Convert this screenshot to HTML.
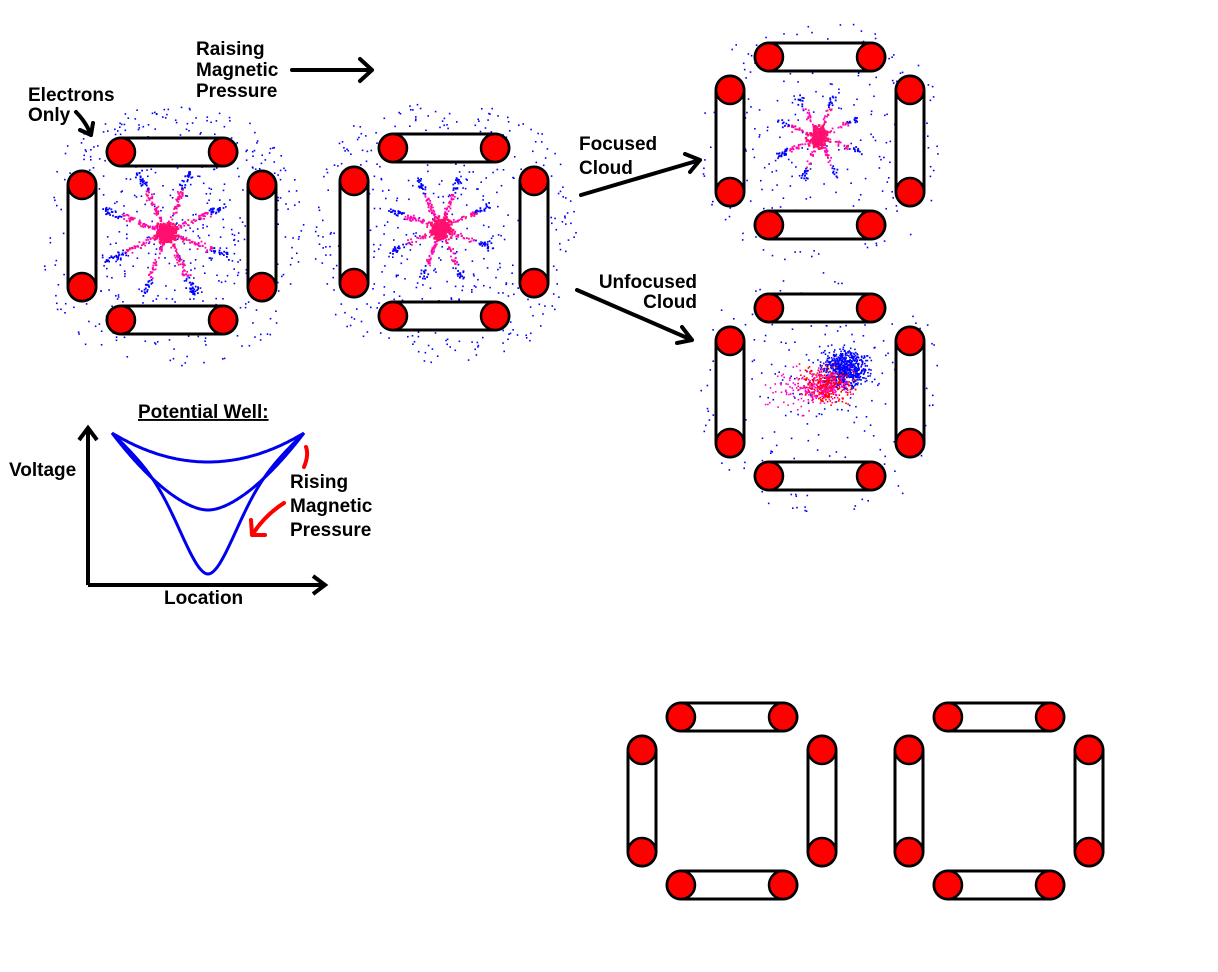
<!DOCTYPE html>
<html><head><meta charset="utf-8"><style>
html,body{margin:0;padding:0;background:#fff;}
svg{display:block;}
text{font-family:"Liberation Sans",sans-serif;font-weight:bold;font-size:19px;fill:#000;}
</style></head><body>
<svg id="s" width="1218" height="972" viewBox="0 0 1218 972">
<g id="dots"></g>
<g id="rigs"></g>

<g>
<text x="196" y="55">Raising</text>
<text x="196" y="76">Magnetic</text>
<text x="196" y="97">Pressure</text>
<text x="28" y="101">Electrons</text>
<text x="28" y="121">Only</text>
<text x="579" y="150">Focused</text>
<text x="579" y="174">Cloud</text>
<text x="697" y="288" text-anchor="end">Unfocused</text>
<text x="697" y="308" text-anchor="end">Cloud</text>
</g>
<g fill="none" stroke="#000" stroke-width="4" stroke-linecap="round" stroke-linejoin="round">
<path d="M292 70 L372 70 M360 59 L372 70 L360 81"/>
<path d="M76 112 Q86 122 91 135 M80 130 L91 135 L93 123"/>
<path d="M581 195 L700 160 M685 154 L700 160 L690 172"/>
<path d="M577 290 L692 340 M682 327 L692 340 L677 343"/>
</g>

<g>
<text x="138" y="418" text-decoration="underline">Potential Well:</text>
<text x="9" y="476">Voltage</text>
<text x="164" y="604">Location</text>
<text x="290" y="488">Rising</text>
<text x="290" y="512">Magnetic</text>
<text x="290" y="536">Pressure</text>
<path d="M88 585 L88 428 M79 440 L88 428 L97 440 M88 585 L325 585 M313 576 L325 585 L313 594" fill="none" stroke="#000" stroke-width="4"/>
<g id="wells" fill="none" stroke="#0000ee" stroke-width="3"></g>
<path d="M306 447 Q309 455 304 467" fill="none" stroke="#ff0000" stroke-width="4" stroke-linecap="round"/>
<path d="M284 503 Q265 515 252 535 M251 520 L252 535 L265 535" fill="none" stroke="#ff0000" stroke-width="4" stroke-linecap="round" stroke-linejoin="round"/>
</g>
</svg>
<script>
const NS="http://www.w3.org/2000/svg";
const rigCenters=[[172,236],[444,232],[820,141],[820,392],[732,801],[999,801]];
const wellDepths=[462,510,574];
const wellExponent=[2,1.6,1];
const wellLinearMix=[1,1,0.6];
function mk(t,a,p){const e=document.createElementNS(NS,t);for(const k in a)e.setAttribute(k,a[k]);p.appendChild(e);return e;}
const rigs=document.getElementById('rigs');
rigCenters.forEach(([cx,cy],i)=>{
 const g=mk('g',{},rigs);
 
 
 const r=14;
 const bars=[[[cx-51,cy-84],[cx+51,cy-84]],[[cx-51,cy+84],[cx+51,cy+84]],[[cx-90,cy-51],[cx-90,cy+51]],[[cx+90,cy-51],[cx+90,cy+51]]];
 bars.forEach(([a,b])=>{
  const l=mk('line',{x1:a[0],y1:a[1],x2:b[0],y2:b[1],stroke:'#000','stroke-width':31,'stroke-linecap':'round'},g);
  
  
  mk('line',{x1:a[0],y1:a[1],x2:b[0],y2:b[1],stroke:'#fff','stroke-width':25,'stroke-linecap':'round'},g);
 });
 bars.forEach(([a,b])=>{[a,b].forEach(p=>{
  const c=mk('circle',{cx:p[0],cy:p[1],r:r,fill:'#ff0000',stroke:'#000','stroke-width':2.5},g);
  
  
 });});
});
let seed=7;function rnd(){seed=(seed*16807)%2147483647;return seed/2147483647;}
function gauss(){return (rnd()+rnd()+rnd()-1.5)/1.5;}
const dots=document.getElementById('dots');
function dot(x,y,c,s){mk('rect',{x:x.toFixed(1),y:y.toFixed(1),width:s||1.6,height:s||1.6,fill:c},dots);}
[[172,236,135,560],[444,232,135,500],[820,141,125,280],[820,392,125,250]].forEach(([cx,cy,R,n])=>{
 for(let k=0;k<n;k++){const a=rnd()*Math.PI*2;const d=R*Math.sqrt(rnd());const sx=Math.cos(a),sy=Math.sin(a);
  const m=Math.max(Math.abs(sx),Math.abs(sy));const f=0.75+0.25/m*0.9;
  dot(cx+sx*d*Math.min(f,1.05),cy+sy*d*Math.min(f,1.05),'#0000ff');}
});
function star(cx,cy,L,n){
 for(let k=0;k<n;k++){const a=Math.floor(rnd()*8)*Math.PI/4+0.35+gauss()*0.1;const d=Math.pow(rnd(),0.9)*L;
  const c=d>L*0.7?'#0000ff':(rnd()<0.5?'#ff00cc':'#ff1080');dot(cx+Math.cos(a)*d+gauss()*3,cy+Math.sin(a)*d+gauss()*3,c,1.8);}
 for(let k=0;k<n*0.5;k++){dot(cx+gauss()*14,cy+gauss()*14,'#ff1070',2.5);}
}
star(166,232,68,650);star(440,228,55,500);star(818,136,45,330);
for(let k=0;k<650;k++){dot(845+gauss()*32,368+gauss()*26,'#0000ff');}
for(let k=0;k<450;k++){dot(825+gauss()*34,385+gauss()*24,rnd()<0.6?'#ff0000':'#ff00cc');}
for(let k=0;k<80;k++){dot(800+gauss()*45,390+gauss()*35,'#ff00cc');}
const wells=document.getElementById('wells');
wellDepths.forEach((d,i)=>{
 const x0=112,x1=304,y0=433,xm=(x0+x1)/2,p=wellExponent[i],w=wellLinearMix[i];
 const e0=0.1, norm=Math.pow(Math.sqrt(1+e0*e0),p), base=Math.pow(e0,p);
 const s=0.28, gEnd=Math.exp(-1/(2*s*s));
 let path='';
 for(let t=0;t<=120;t++){const x=x0+(x1-x0)*t/120;const u=(x-xm)/((x1-x0)/2);
  const a=Math.pow(Math.sqrt(u*u+e0*e0),p);
  const g1=1-(a-base)/(norm-base);
  const g2=(Math.exp(-u*u/(2*s*s))-gEnd)/(1-gEnd);
  const g=w*g1+(1-w)*g2;
  const y=y0+(d-y0)*g;
  path+=(t?'L':'M')+x.toFixed(1)+' '+y.toFixed(1);}
 const el=mk('path',{d:path},wells);
 
 
});
</script>
</body></html>
